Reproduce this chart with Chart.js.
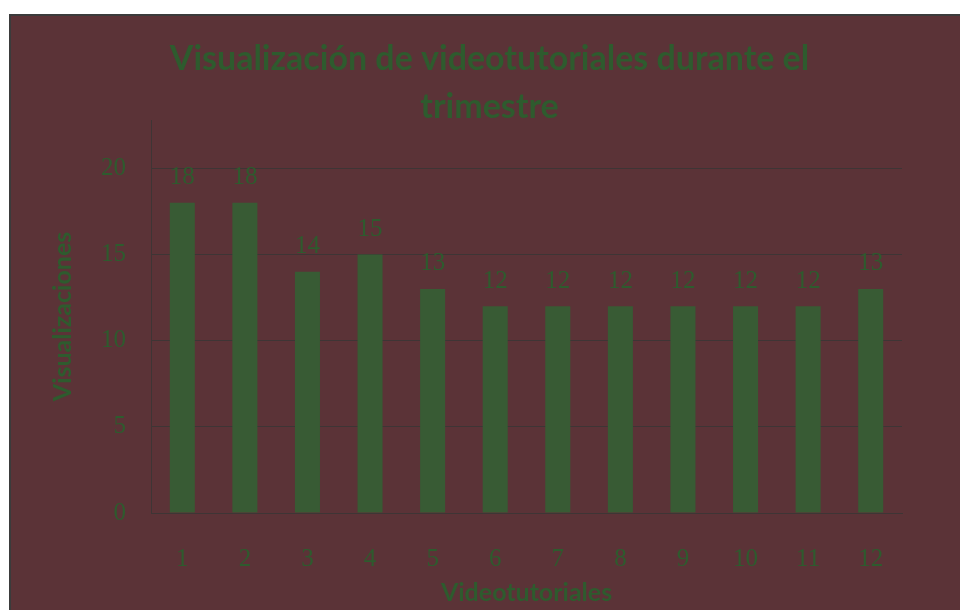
<!DOCTYPE html>
<html>
<head>
<meta charset="utf-8">
<script src="https://cdn.jsdelivr.net/npm/chart.js@4"></script>
<style>
  html, body { margin: 0; padding: 0; background: #ffffff; }
  #frame {
    position: absolute; left: 9px; top: 14px;
    width: 949px; height: 594px;
    border-left: 2px solid #3b3b3b; border-top: 2px solid #3b3b3b;
    background: #5b3337;
  }
  #chart { display: block; }
</style>
</head>
<body>
<div id="frame"><canvas id="chart" width="949" height="594"></canvas></div>
<script>
// datos del gráfico
const videos = ['1', '2', '3', '4', '5', '6', '7', '8', '9', '10', '11', '12'];
const vistas = [18, 18, 14, 15, 13, 12, 12, 12, 12, 12, 12, 13];
const yTicks = [0, 5, 10, 15, 20];
const yMax = 22.8;

const verde = '#2e5b2e';
const serif = 'Liberation Serif, serif';
const sans = 'Lato, sans-serif';

// etiquetas encima de cada barra
const etiquetas = {
  id: 'etiquetas',
  afterDatasetsDraw(chart) {
    const ctx = chart.ctx;
    const meta = chart.getDatasetMeta(0);
    ctx.save();
    ctx.font = '25px ' + serif;
    ctx.fillStyle = verde;
    ctx.textAlign = 'center';
    ctx.textBaseline = 'middle';
    meta.data.forEach((bar, i) => {
      ctx.fillText(String(vistas[i]), bar.x, bar.y - 25);
    });
    ctx.restore();
  },
};

new Chart(document.getElementById('chart'), {
  type: 'bar',
  data: {
    labels: videos,
    datasets: [{
      data: vistas,
      backgroundColor: '#385b34',
      borderWidth: 0,
      barPercentage: 0.4,
      categoryPercentage: 1,
    }],
  },
  options: {
    responsive: false,
    animation: false,
    layout: { padding: { left: 8, right: 0, top: 0, bottom: 0 } },
    plugins: {
      legend: { display: false },
      tooltip: { enabled: false },
      title: {
        display: true,
        text: ['Visualización de videotutoriales durante el', 'trimestre'],
        color: verde,
        font: { family: sans, size: 34, weight: 'bold', lineHeight: '48px' },
        padding: { top: 19, bottom: -11 },
      },
    },
    scales: {
      x: {
        grid: { display: false, drawTicks: false },
        border: { display: true, color: '#3e3535', width: 1 },
        ticks: { color: verde, font: { family: serif, size: 25 }, padding: 31 },
        title: {
          display: true, text: 'Videotutoriales', color: verde,
          font: { family: sans, size: 25, weight: 'bold' },
          padding: { top: 0, bottom: 2 },
        },
        afterFit(scale) { scale.height = 97; },
      },
      y: {
        min: 0,
        max: yMax,
        grid: { color: '#3e3535', lineWidth: 1, drawTicks: false },
        border: { display: true, color: '#3e3535', width: 1 },
        ticks: { stepSize: 5, color: verde, font: { family: serif, size: 25 }, padding: 25 },
        afterBuildTicks(scale) {
          scale.ticks = yTicks.map(v => ({ value: v }));
        },
        title: {
          display: true, text: 'Visualizaciones', color: verde,
          font: { family: sans, size: 25, weight: 'bold' },
          padding: { top: 29, bottom: 0 },
        },
        afterFit(scale) { scale.width = 132; },
      },
      derecha: {
        position: 'right',
        display: true,
        grid: { display: false },
        border: { display: false },
        ticks: { display: false },
        afterFit(scale) { scale.width = 58; },
      },
    },
  },
  plugins: [etiquetas],
});
</script>
</body>
</html>
